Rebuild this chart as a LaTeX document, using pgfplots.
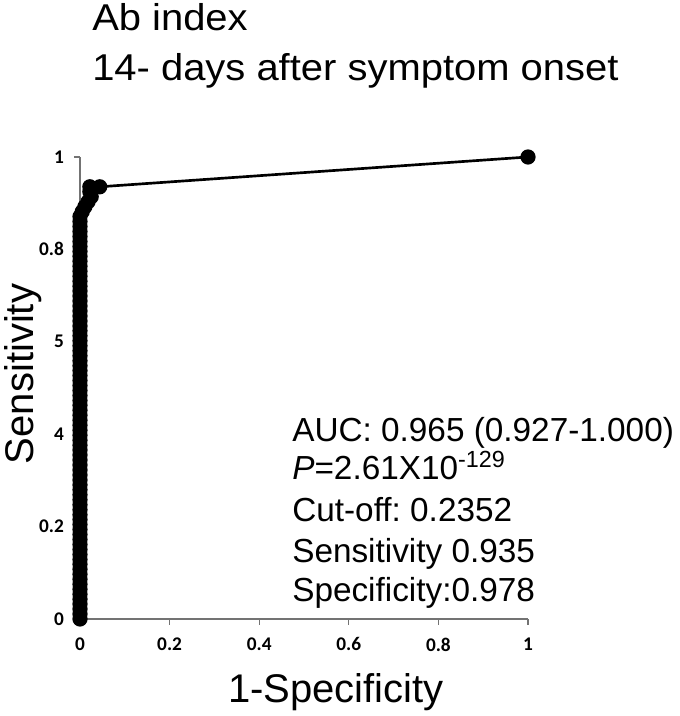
\documentclass[border=0pt]{standalone}
\usepackage{fontspec}
\setmainfont{Liberation Sans}
\newfontfamily\titlefont[FakeStretch=1.07]{Liberation Sans}
\newfontfamily\tickfont{Carlito}
\usepackage{pgfplots}
\pgfplotsset{compat=1.18}
\usepackage{pgfplotstable}
\frenchspacing

\pgfplotstableread{
x y
0 0
0 0.0108
0 0.0215
0 0.0323
0 0.0430
0 0.0538
0 0.0645
0 0.0753
0 0.0860
0 0.0968
0 0.1075
0 0.1183
0 0.1290
0 0.1398
0 0.1505
0 0.1613
0 0.1720
0 0.1828
0 0.1935
0 0.2043
0 0.2151
0 0.2258
0 0.2366
0 0.2473
0 0.2581
0 0.2688
0 0.2796
0 0.2903
0 0.3011
0 0.3118
0 0.3226
0 0.3333
0 0.3441
0 0.3548
0 0.3656
0 0.3763
0 0.3871
0 0.3978
0 0.4086
0 0.4194
0 0.4301
0 0.4409
0 0.4516
0 0.4624
0 0.4731
0 0.4839
0 0.4946
0 0.5054
0 0.5161
0 0.5269
0 0.5376
0 0.5484
0 0.5591
0 0.5699
0 0.5806
0 0.5914
0 0.6022
0 0.6129
0 0.6237
0 0.6344
0 0.6452
0 0.6559
0 0.6667
0 0.6774
0 0.6882
0 0.6989
0 0.7097
0 0.7204
0 0.7312
0 0.7419
0 0.7527
0 0.7634
0 0.7742
0 0.7849
0 0.7957
0 0.8065
0 0.8172
0 0.8280
0 0.8387
0 0.8495
0 0.8602
0 0.8710
0.005 0.8817
0.011 0.8925
0.018 0.9032
0.025 0.9140
0.022 0.9247
0.022 0.9355
0.044 0.9355
1 1
}\roc

\begin{document}
\begin{tikzpicture}
\useasboundingbox (0,0) rectangle (510pt,537pt);
\begin{axis}[
  at={(60pt,72.75pt)}, anchor=south west,
  scale only axis, width=336pt, height=346.5pt,
  xmin=0, xmax=1, ymin=0, ymax=1,
  axis x line=bottom, axis y line=left,
  axis line style={-, draw=black!55, line width=0.8pt},
  tick align=outside, major tick length=4.5pt,
  tick style={black!55, line width=0.8pt},
  xtick={0,0.2,0.4,0.6,0.8,1}, xticklabels={0,0.2,0.4,0.6,0.8,1},
  ytick={0,0.2,0.4,0.6,0.8,1}, yticklabels={0,0.2,4,5,0.8,1},
  ticklabel style={font=\tickfont\bfseries\fontsize{14.5}{16}\selectfont, text=black},
  yticklabel style={xshift=-4pt},
  xticklabel style={yshift=-6pt},
  clip=false,
]
\addplot[black, line width=2pt, mark=*, mark size=4.7pt, mark options={fill=black, draw=black}] table {\roc};
\end{axis}
\begin{scope}[x=0.75pt, y=-0.75pt, shift={(0pt,537pt)}]
  \node[anchor=base west, inner sep=0pt, font=\titlefont\fontsize{28}{34}\selectfont] at (92,31) {Ab index};
  \node[anchor=base west, inner sep=0pt, font=\titlefont\fontsize{28}{34}\selectfont] at (92,81) {14- days after symptom onset};
  \node[anchor=base, rotate=90, inner sep=0pt, font=\fontsize{30}{36}\selectfont] at (33,374) {Sensitivity};
  \node[anchor=base, inner sep=0pt, font=\fontsize{30}{36}\selectfont] at (336,703) {1-Specificity};
  \node[anchor=base west, inner sep=0pt, font=\fontsize{25}{30}\selectfont] at (292,442) {AUC: 0.965 (0.927-1.000)};
  \node[anchor=base west, inner sep=0pt, font=\fontsize{25}{30}\selectfont] at (292,480) {\itshape P\upshape =2.61X10\textsuperscript{-129}};
  \node[anchor=base west, inner sep=0pt, font=\fontsize{25}{30}\selectfont] at (292,522) {Cut-off: 0.2352};
  \node[anchor=base west, inner sep=0pt, font=\fontsize{25}{30}\selectfont] at (292,563) {Sensitivity 0.935};
  \node[anchor=base west, inner sep=0pt, font=\fontsize{25}{30}\selectfont] at (292,602) {Specificity:0.978};
\end{scope}
\end{tikzpicture}
\end{document}
